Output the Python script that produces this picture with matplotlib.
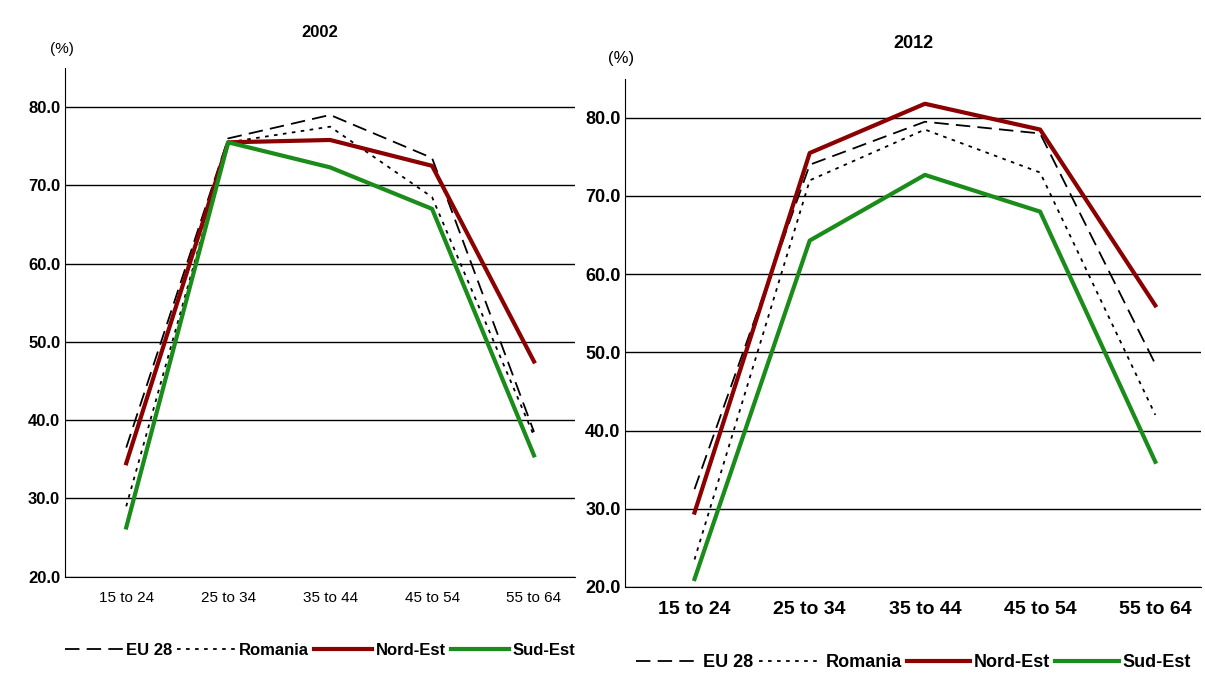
import matplotlib.pyplot as plt

plt.rcParams["font.family"] = ["Liberation Sans", "DejaVu Sans"]

ages = ["15 to 24", "25 to 34", "35 to 44", "45 to 54", "55 to 64"]

eu_2002 = [36.5, 76.0, 79.0, 73.5, 38.5]
ro_2002 = [29.0, 75.5, 77.5, 68.5, 38.0]
ne_2002 = [34.5, 75.5, 75.8, 72.5, 47.5]
se_2002 = [26.3, 75.5, 72.3, 67.0, 35.5]

eu_2012 = [32.5, 74.0, 79.5, 78.0, 48.5]
ro_2012 = [23.5, 72.0, 78.5, 73.0, 42.0]
ne_2012 = [29.5, 75.5, 81.8, 78.5, 56.0]
se_2012 = [21.0, 64.3, 72.7, 68.0, 36.0]

fig = plt.figure(figsize=(12.05, 6.73), dpi=100)
ax1 = fig.add_axes([0.054, 0.143, 0.423, 0.756])
ax2 = fig.add_axes([0.519, 0.128, 0.478, 0.755])


def panel(ax, title, eu, ro, ne, se, fs, xfs, legy):
    x = range(len(ages))
    ax.plot(x, eu, color="black", lw=1.3, ls=(0, (8, 4)), label="EU 28")
    ax.plot(x, ro, color="black", lw=1.3, ls=(0, (2, 3)), label="Romania")
    ax.plot(x, ne, color="#8b0000", lw=3, label="Nord-Est")
    ax.plot(x, se, color="#1a8c1a", lw=3, label="Sud-Est")
    ax.set_xlim(-0.6, 4.4)
    ax.set_ylim(20, 85)
    ax.set_yticks([20, 30, 40, 50, 60, 70, 80])
    ax.set_yticklabels([f"{v:.1f}" for v in range(20, 90, 10)], fontsize=fs, fontweight="bold")
    ax.set_xticks(list(x))
    ax.set_xticklabels(ages, fontsize=xfs, fontweight="bold" if xfs > 12 else "normal")
    ax.tick_params(axis="x", length=0, pad=10)
    ax.tick_params(axis="y", length=0)
    ax.grid(axis="y", color="black", lw=1)
    ax.set_axisbelow(True)
    for s in ["top", "right"]:
        ax.spines[s].set_visible(False)
    ax.set_title(title, fontsize=fs, fontweight="bold", pad=22)
    ax.text(-0.03, 1.03, "(%)", transform=ax.transAxes, fontsize=fs - 1)
    ax.legend(loc="upper center", bbox_to_anchor=(0.5, legy), ncol=4, frameon=False,
              prop={"size": fs, "weight": "bold"}, handlelength=3.5,
              columnspacing=0.3, handletextpad=0.2)


panel(ax1, "2002", eu_2002, ro_2002, ne_2002, se_2002, 12, 11, -0.1)
panel(ax2, "2012", eu_2012, ro_2012, ne_2012, se_2012, 13, 14, -0.1)

fig.savefig("out.png", dpi=100)
